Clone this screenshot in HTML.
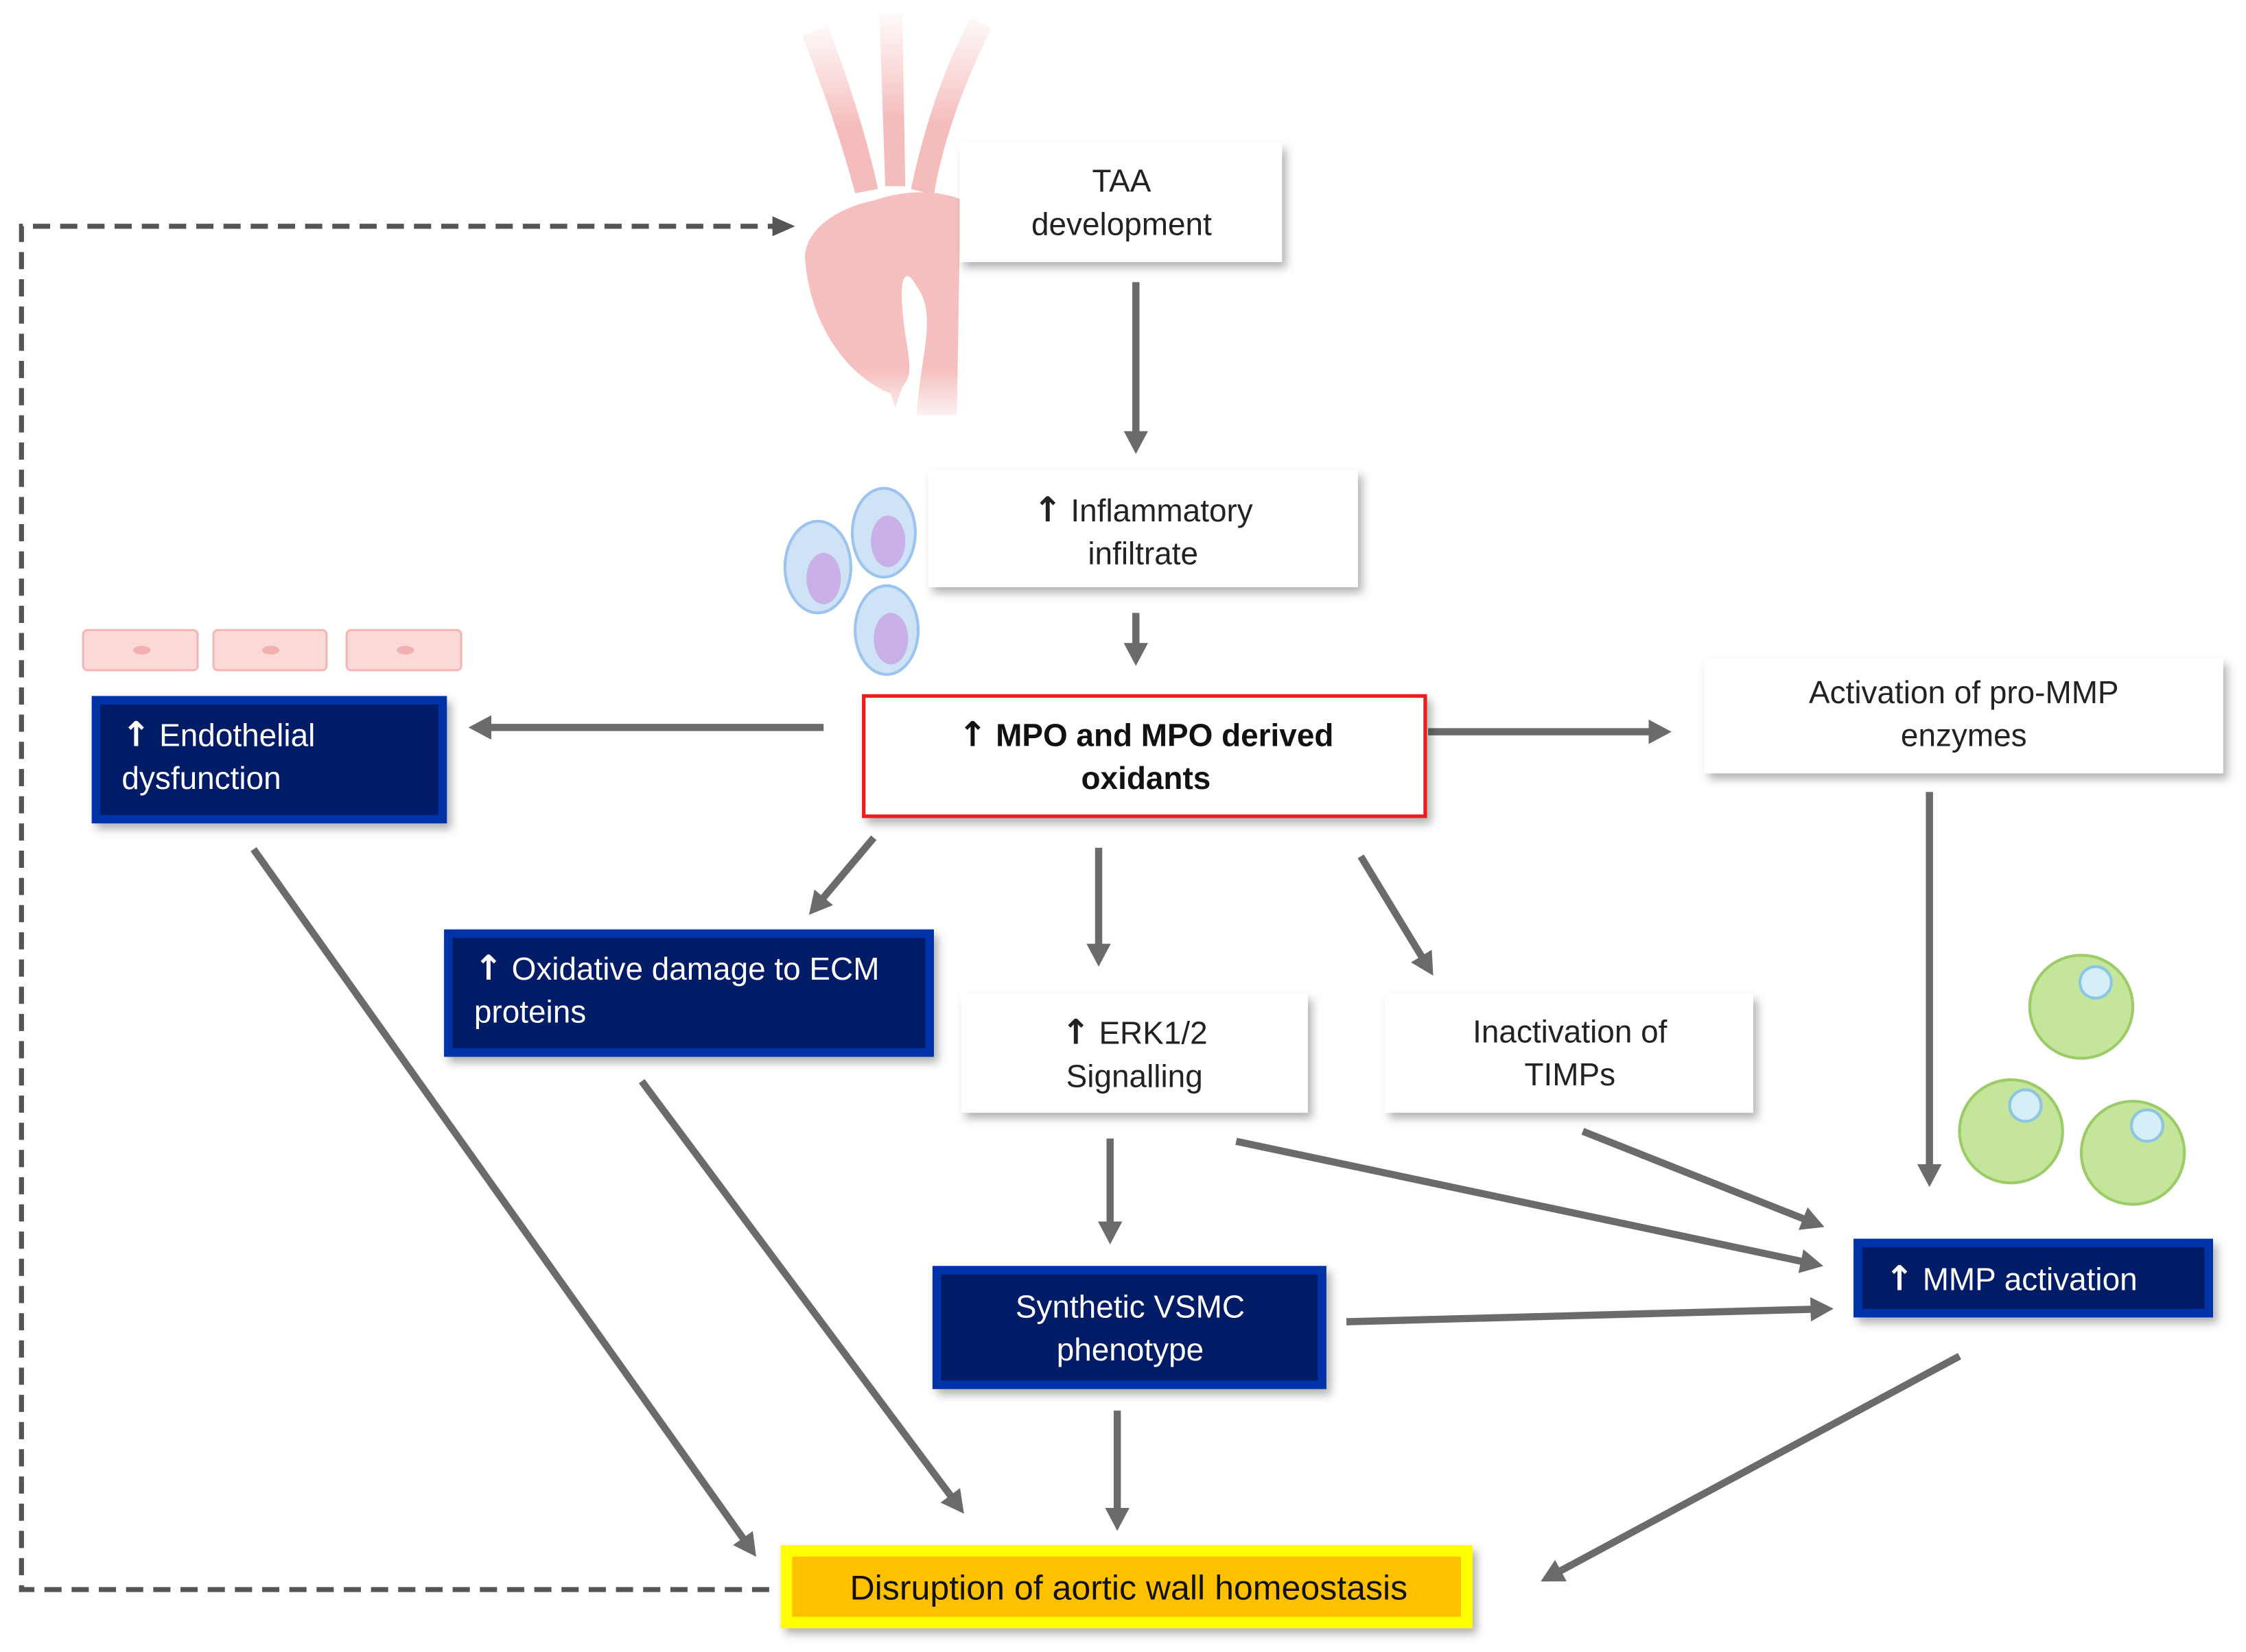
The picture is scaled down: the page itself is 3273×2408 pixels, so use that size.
<!DOCTYPE html>
<html><head><meta charset="utf-8"><style>
html,body{margin:0;padding:0;background:#fff}
svg{display:block}
text{font-family:"Liberation Sans",sans-serif}
.ar{font-family:"DejaVu Sans",sans-serif;font-weight:bold;font-size:24px}
</style></head><body>
<svg width="3273" height="2408" viewBox="0 0 1568 1153.6" xmlns="http://www.w3.org/2000/svg">
<defs>
<marker id="ah" markerWidth="4" markerHeight="4" refX="2.2" refY="2" orient="auto" markerUnits="strokeWidth">
<path d="M0,0.3 L3.2,2 L0,3.7 Z" fill="#6b6b6b"/></marker>
<marker id="ahd" markerWidth="5" markerHeight="5" refX="2.5" refY="2.5" orient="auto" markerUnits="strokeWidth">
<path d="M0,0.5 L4.5,2.5 L0,4.5 Z" fill="#555"/></marker>
<filter id="sh" x="-10%" y="-10%" width="125%" height="135%"><feDropShadow dx="3" dy="4" stdDeviation="3" flood-color="#000" flood-opacity="0.3"/></filter>
<linearGradient id="fade" x1="0" y1="0" x2="0" y2="1"><stop offset="0" stop-color="#f7c0c0" stop-opacity="0.1"/><stop offset="0.6" stop-color="#f5b9b9"/><stop offset="1" stop-color="#f5b9b9"/></linearGradient>
<linearGradient id="fade2" x1="0" y1="0" x2="0" y2="1"><stop offset="0" stop-color="#f5bcbc"/><stop offset="0.8" stop-color="#f5bcbc"/><stop offset="1" stop-color="#f5c8c8" stop-opacity="0.3"/></linearGradient>
</defs>

<!-- aorta -->
<g opacity="0.95">
<path d="M597,135 C585,90 570,50 560,25 L578,18 C592,55 605,95 613,132 Z" fill="url(#fade)"/>
<path d="M618,130 L614,10 L630,10 L632,130 Z" fill="url(#fade)"/>
<path d="M636,132 C646,85 660,45 678,12 L692,20 C672,60 658,100 652,136 Z" fill="url(#fade)"/>
<path d="M610,140 C640,130 672,132 695,155 L695,170 L670,170 L668,290 L640,290 C642,250 655,220 640,200 C632,185 628,195 630,215 C632,245 640,260 630,270 L625,285 L622,275 C590,262 565,225 562,180 C562,160 585,145 610,140 Z" fill="url(#fade2)"/>
</g>

<!-- dashed feedback -->
<path d="M537,1110 L15,1110 L15,158 L548,158" fill="none" stroke="#555" stroke-width="3.5" stroke-dasharray="12,7" marker-end="url(#ahd)"/>

<!-- TAA -->
<rect x="670" y="100" width="225" height="83" fill="#fff" filter="url(#sh)"/>
<text x="783" y="134" font-size="22" text-anchor="middle" fill="#222">TAA</text>
<text x="783" y="164" font-size="22" text-anchor="middle" fill="#222">development</text>

<!-- inflammatory cells -->
<g stroke="#9cc4ee" stroke-width="2">
<ellipse cx="571" cy="396" rx="23" ry="32" fill="#cfe3f7"/>
<ellipse cx="617" cy="372" rx="22" ry="31" fill="#cfe3f7"/>
<ellipse cx="619" cy="440" rx="22" ry="31" fill="#cfe3f7"/>
</g>
<g fill="#c9b0e6"><ellipse cx="575" cy="404" rx="12" ry="18"/><ellipse cx="620" cy="378" rx="12" ry="18"/><ellipse cx="622" cy="446" rx="12" ry="18"/></g>

<rect x="648" y="328" width="300" height="82" fill="#fff" filter="url(#sh)"/>
<text x="798" y="364" font-size="22" text-anchor="middle" fill="#222"><tspan class="ar">↑</tspan> Inflammatory</text>
<text x="798" y="394" font-size="22" text-anchor="middle" fill="#222">infiltrate</text>

<!-- endothelial cells -->
<g fill="#fbd9d9" stroke="#f2b8b8" stroke-width="1.5">
<rect x="58" y="440" width="80" height="28" rx="3"/><rect x="149" y="440" width="79" height="28" rx="3"/><rect x="242" y="440" width="80" height="28" rx="3"/>
</g>
<g fill="#f0b0b0"><ellipse cx="99" cy="454" rx="6" ry="3"/><ellipse cx="189" cy="454" rx="6" ry="3"/><ellipse cx="283" cy="454" rx="6" ry="3"/></g>

<!-- green cells -->
<g fill="#c4e59a" stroke="#9ccb6a" stroke-width="2">
<circle cx="1453" cy="703" r="36"/><circle cx="1404" cy="790" r="36"/><circle cx="1489" cy="805" r="36"/>
</g>
<g fill="#d5eef8" stroke="#8cc6e0" stroke-width="2">
<circle cx="1463" cy="686" r="11"/><circle cx="1414" cy="772" r="11"/><circle cx="1499" cy="786" r="11"/>
</g>

<!-- arrows -->
<g stroke="#6b6b6b" stroke-width="5" fill="none" marker-end="url(#ah)">
<line x1="793" y1="197" x2="793" y2="312"/>
<line x1="793" y1="428" x2="793" y2="460"/>
<line x1="575" y1="508" x2="332" y2="508"/>
<line x1="997" y1="511" x2="1162" y2="511"/>
<line x1="1347" y1="553" x2="1347" y2="824"/>
<line x1="610" y1="585" x2="568" y2="635"/>
<line x1="767" y1="592" x2="767" y2="670"/>
<line x1="950" y1="598" x2="998" y2="677"/>
<line x1="775" y1="795" x2="775" y2="864"/>
<line x1="863" y1="797" x2="1268" y2="883"/>
<line x1="1105" y1="790" x2="1269" y2="855"/>
<line x1="940" y1="923" x2="1275" y2="914"/>
<line x1="177" y1="593" x2="525" y2="1083"/>
<line x1="448" y1="755" x2="670" y2="1053"/>
<line x1="780" y1="985" x2="780" y2="1064"/>
<line x1="1368" y1="947" x2="1080" y2="1102"/>
</g>

<!-- MPO -->
<rect x="603" y="486" width="392" height="84" fill="#fff" stroke="#ee1c1c" stroke-width="2.5" filter="url(#sh)"/>
<text x="800" y="521" font-size="22" font-weight="bold" text-anchor="middle" fill="#111"><tspan class="ar">↑</tspan> MPO and MPO derived</text>
<text x="800" y="551" font-size="22" font-weight="bold" text-anchor="middle" fill="#111">oxidants</text>

<!-- Activation -->
<rect x="1190" y="460" width="362" height="80" fill="#fff" filter="url(#sh)"/>
<text x="1371" y="491" font-size="22" text-anchor="middle" fill="#222">Activation of pro-MMP</text>
<text x="1371" y="521" font-size="22" text-anchor="middle" fill="#222">enzymes</text>

<!-- ERK -->
<rect x="671" y="694" width="242" height="83" fill="#fff" filter="url(#sh)"/>
<text x="792" y="729" font-size="22" text-anchor="middle" fill="#222"><tspan class="ar">↑</tspan> ERK1/2</text>
<text x="792" y="759" font-size="22" text-anchor="middle" fill="#222">Signalling</text>

<!-- TIMPs -->
<rect x="967" y="694" width="257" height="83" fill="#fff" filter="url(#sh)"/>
<text x="1096" y="728" font-size="22" text-anchor="middle" fill="#222">Inactivation of</text>
<text x="1096" y="758" font-size="22" text-anchor="middle" fill="#222">TIMPs</text>

<!-- navy boxes -->
<g filter="url(#sh)">
<rect x="64" y="486" width="248" height="89" fill="#0033a8"/><rect x="70" y="492" width="236" height="77" fill="#001a66"/>
<rect x="310" y="649" width="342" height="89" fill="#0033a8"/><rect x="316" y="655" width="330" height="77" fill="#001a66"/>
<rect x="651" y="884" width="275" height="86" fill="#0033a8"/><rect x="657" y="890" width="263" height="74" fill="#001a66"/>
<rect x="1294" y="865" width="251" height="55" fill="#0033a8"/><rect x="1300" y="871" width="239" height="43" fill="#001a66"/>
</g>
<g fill="#fff" font-size="22">
<text x="85" y="521"><tspan class="ar">↑</tspan> Endothelial</text><text x="85" y="551">dysfunction</text>
<text x="331" y="684"><tspan class="ar">↑</tspan> Oxidative damage to ECM</text><text x="331" y="714">proteins</text>
<text x="789" y="920" text-anchor="middle">Synthetic VSMC</text><text x="789" y="950" text-anchor="middle">phenotype</text>
<text x="1316" y="901"><tspan class="ar">↑</tspan> MMP activation</text>
</g>

<!-- Disruption -->
<rect x="545" y="1079" width="483" height="58" fill="#ffff00" filter="url(#sh)"/>
<rect x="553" y="1087" width="467" height="42" fill="#ffc000"/>
<text x="788" y="1117" font-size="24" text-anchor="middle" fill="#111">Disruption of aortic wall homeostasis</text>
</svg>
</body></html>
